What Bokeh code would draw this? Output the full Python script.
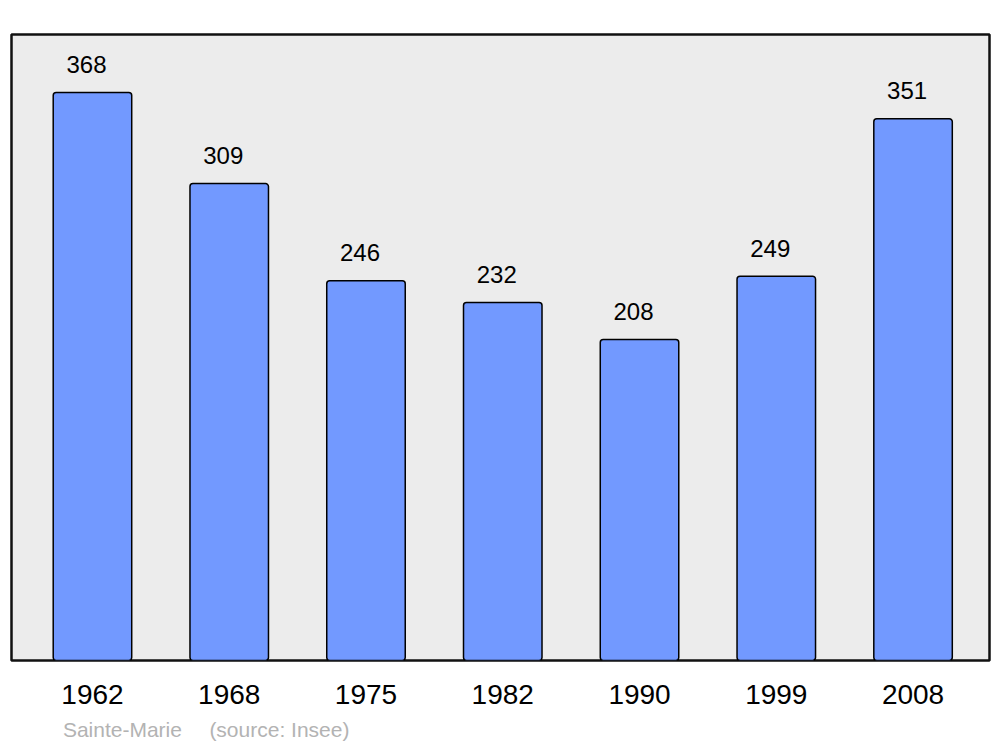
from bokeh.plotting import figure
from bokeh.models import Range1d, FixedTicker, LinearAxis, ColumnDataSource
from bokeh.embed import file_html
from bokeh.resources import INLINE
from bokeh.core.properties import value

years = ["1962", "1968", "1975", "1982", "1990", "1999", "2008"]
population = [368, 309, 246, 232, 208, 249, 351]
source_texts = ["Sainte-Marie", "(source: Insee)"]

FONT = "Liberation Sans"
xs = list(range(len(years)))
labels = [str(v) for v in population]

src = ColumnDataSource(dict(x=xs, top=population, label=labels))

p = figure(width=1000, height=745, output_backend="svg", toolbar_location=None,
           x_range=Range1d(-0.592, 6.559), y_range=Range1d(0, 405.6),
           min_border_left=11, min_border_right=11, min_border_top=34, min_border_bottom=85)
p.frame_width = 978
p.frame_height = 626

p.background_fill_color = "#ececec"
p.border_fill_color = "white"
p.outline_line_color = "#111111"
p.outline_line_width = 2.5
p.xgrid.visible = False
p.ygrid.visible = False
p.yaxis.visible = False

p.vbar(x="x", top="top", bottom=0, width=0.574, source=src,
       fill_color="#7299ff", line_color="black", line_width=1.5,
       border_radius=3)

p.text(x="x", y="top", text="label", source=src,
       text_font=value(FONT), text_font_size="24px", text_color="black",
       text_align="center", text_baseline="alphabetic",
       x_offset=-6, y_offset=-28)

ax = p.xaxis[0]
ax.ticker = FixedTicker(ticks=xs)
ax.major_label_overrides = {i: y for i, y in zip(xs, years)}
ax.axis_line_color = None
ax.major_tick_line_color = None
ax.minor_tick_line_color = None
ax.major_tick_out = 0
ax.major_tick_in = 0
ax.major_label_standoff = 24
ax.major_label_text_font = FONT
ax.major_label_text_font_size = "28px"
ax.major_label_text_color = "black"

# second axis below for the source caption
p.extra_x_ranges = {"cap": Range1d(0.2936, 6.5229)}
ax2 = LinearAxis(x_range_name="cap", ticker=FixedTicker(ticks=[1, 2]),
                 major_label_overrides={1: source_texts[0], 2: source_texts[1]})
ax2.axis_line_color = None
ax2.major_tick_line_color = None
ax2.minor_tick_line_color = None
ax2.major_tick_out = 0
ax2.major_tick_in = 0
ax2.major_label_standoff = 11
ax2.major_label_text_font = FONT
ax2.major_label_text_font_size = "21px"
ax2.major_label_text_color = "#b3b3b3"
p.add_layout(ax2, "below")

open("out.html", "w").write(file_html(p, INLINE))
